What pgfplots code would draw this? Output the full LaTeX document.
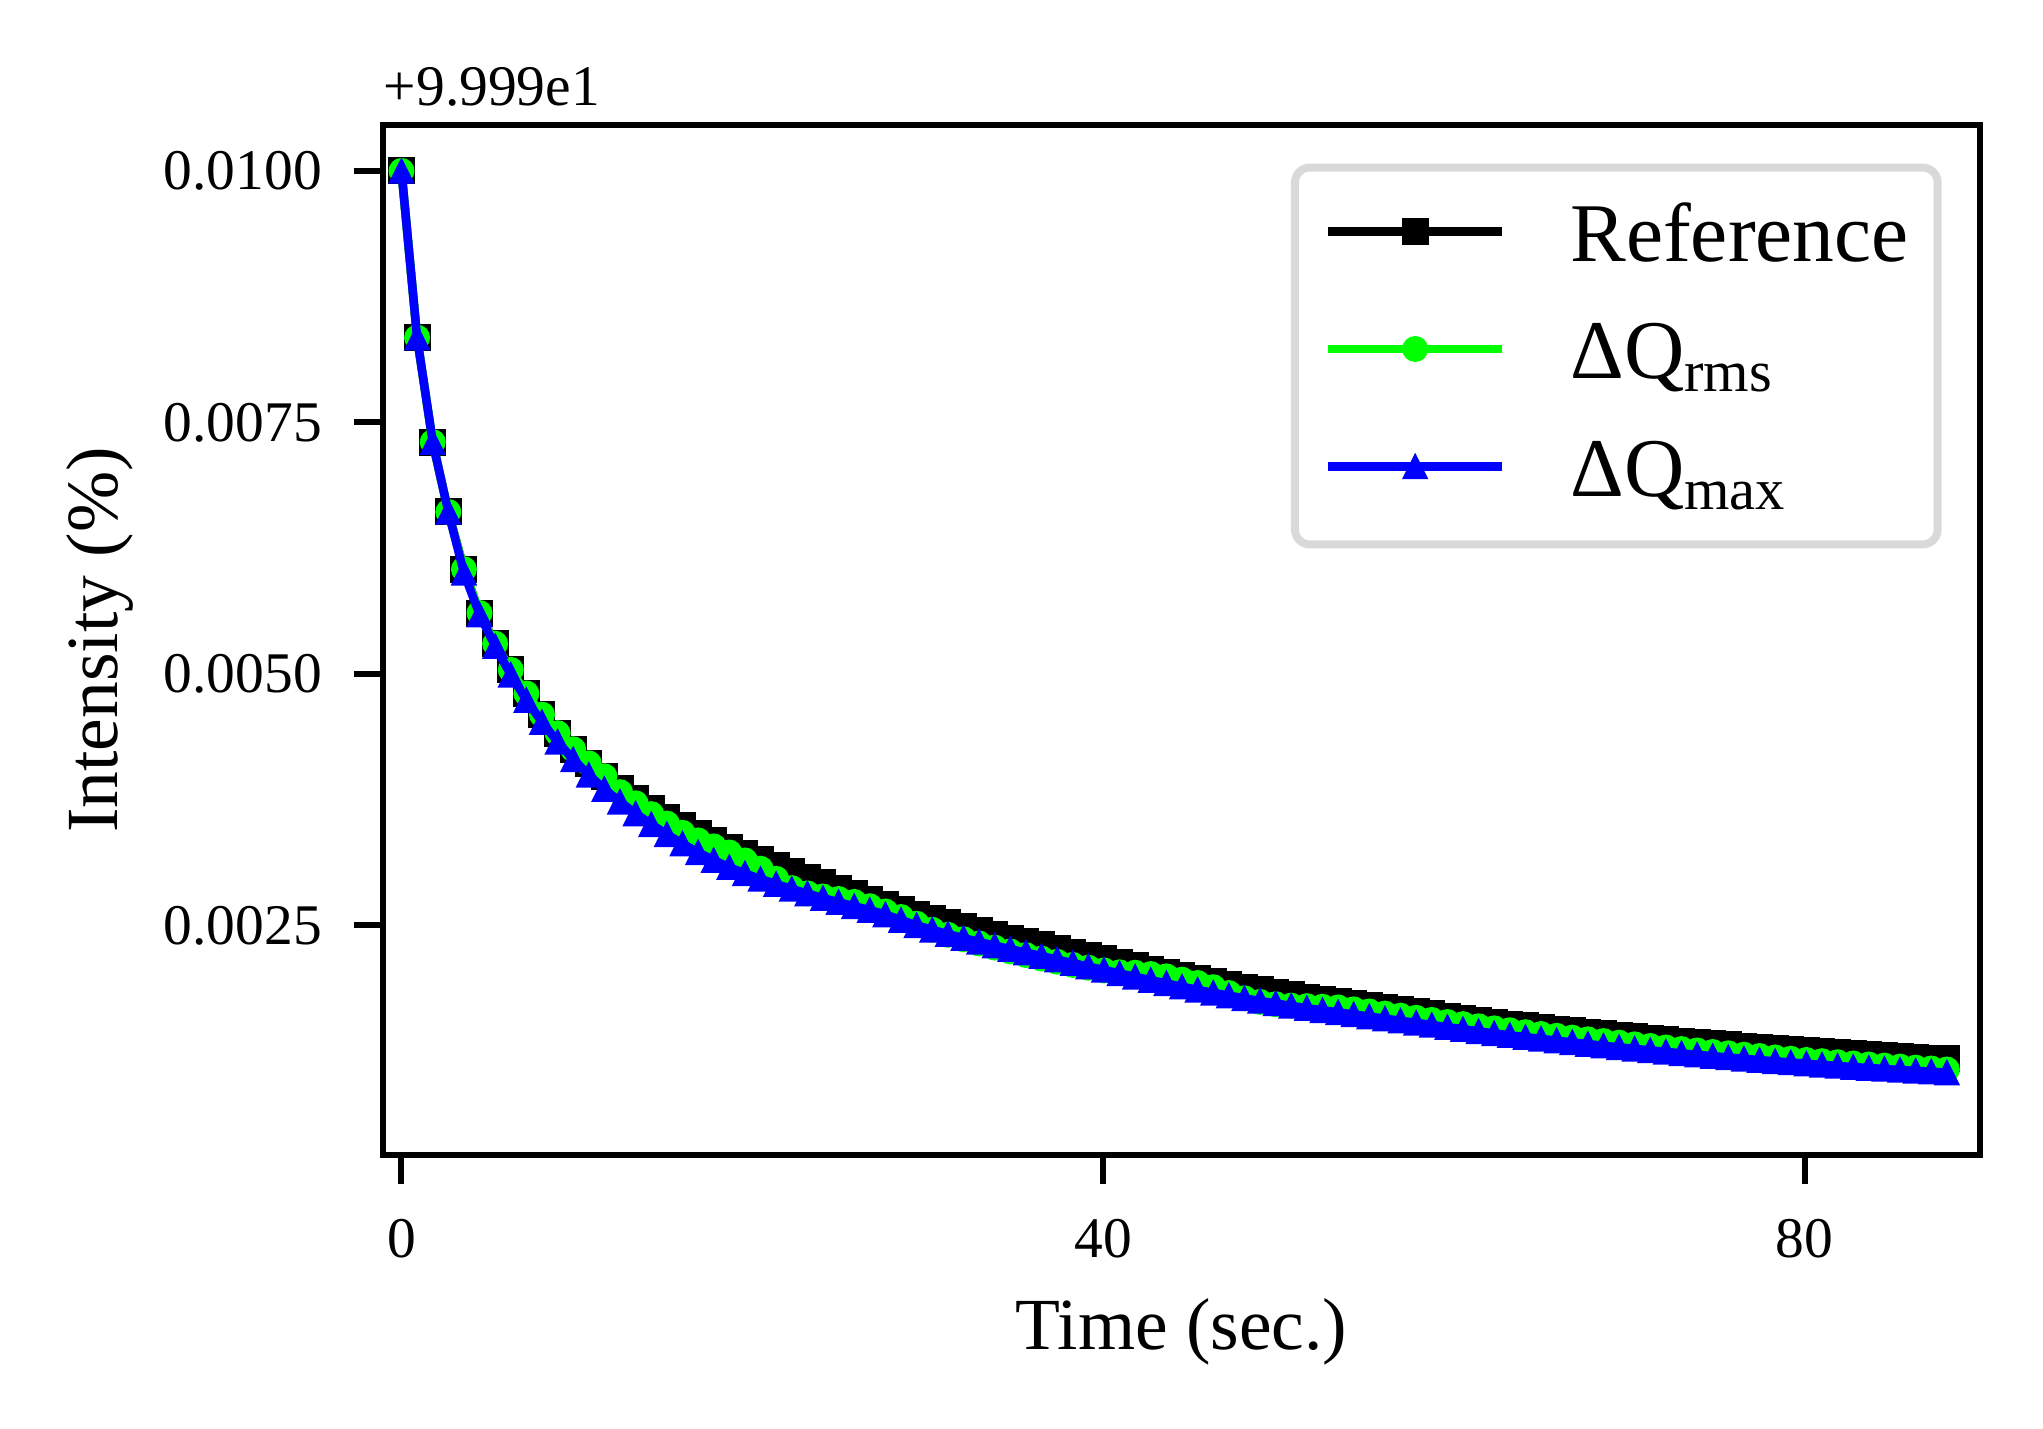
\documentclass[border=0pt]{standalone}
\usepackage{fontspec}
\setmainfont{Liberation Serif}
\usepackage{pgfplots}
\pgfplotsset{compat=1.18}
\usepackage{pgfplotstable}
\definecolor{mygreen}{RGB}{0,255,0}
\definecolor{myblue}{RGB}{0,0,255}
\pgfdeclareplotmark{mtri}{%
  \pgfpathmoveto{\pgfqpoint{0pt}{\pgfplotmarksize}}%
  \pgfpathlineto{\pgfqpoint{-\pgfplotmarksize}{-\pgfplotmarksize}}%
  \pgfpathlineto{\pgfqpoint{\pgfplotmarksize}{-\pgfplotmarksize}}%
  \pgfpathclose\pgfusepathqfillstroke}
\pgfplotstableread{
t ref rms max
0 0.010000 0.010000 0.010000
0.89 0.008343 0.008343 0.008343
1.78 0.007304 0.007304 0.007304
2.67 0.006610 0.006610 0.006610
3.56 0.006040 0.006040 0.006005
4.45 0.005605 0.005605 0.005590
5.34 0.005300 0.005300 0.005275
6.23 0.005040 0.005040 0.004990
7.12 0.004805 0.004805 0.004740
8.01 0.004595 0.004595 0.004520
8.90 0.004410 0.004410 0.004325
9.79 0.004250 0.004250 0.004150
10.68 0.004110 0.004110 0.003995
11.57 0.003982 0.003982 0.003855
12.46 0.003864 0.003824 0.003728
13.35 0.003758 0.003713 0.003612
14.24 0.003661 0.003606 0.003505
15.13 0.003572 0.003512 0.003405
16.02 0.003490 0.003420 0.003312
16.91 0.003414 0.003344 0.003226
17.80 0.003345 0.003285 0.003148
18.69 0.003279 0.003224 0.003078
19.58 0.003215 0.003145 0.003016
20.47 0.003153 0.003063 0.002961
21.36 0.003093 0.002963 0.002910
22.25 0.003035 0.002870 0.002862
23.14 0.002978 0.002818 0.002816
24.03 0.002922 0.002787 0.002772
24.92 0.002867 0.002762 0.002730
25.81 0.002813 0.002733 0.002690
26.70 0.002760 0.002690 0.002652
27.59 0.002708 0.002638 0.002608
28.48 0.002658 0.002583 0.002553
29.37 0.002611 0.002516 0.002501
30.26 0.002566 0.002456 0.002456
31.15 0.002524 0.002406 0.002414
32.04 0.002484 0.002362 0.002374
32.93 0.002446 0.002320 0.002336
33.82 0.002409 0.002279 0.002299
34.71 0.002374 0.002241 0.002264
35.60 0.002340 0.002205 0.002230
36.49 0.002305 0.002170 0.002195
37.38 0.002270 0.002138 0.002160
38.27 0.002235 0.002107 0.002125
39.16 0.002201 0.002079 0.002091
40.05 0.002167 0.002052 0.002057
40.94 0.002133 0.002033 0.002023
41.83 0.002099 0.002029 0.001989
42.72 0.002066 0.002016 0.001956
43.61 0.002033 0.001993 0.001923
44.50 0.002000 0.001960 0.001890
45.39 0.001969 0.001927 0.001859
46.28 0.001940 0.001885 0.001830
47.17 0.001912 0.001827 0.001802
48.06 0.001885 0.001775 0.001775
48.95 0.001859 0.001739 0.001749
49.84 0.001834 0.001716 0.001724
50.73 0.001810 0.001702 0.001700
51.62 0.001787 0.001697 0.001677
52.51 0.001766 0.001691 0.001656
53.40 0.001746 0.001684 0.001636
54.29 0.001725 0.001665 0.001615
55.18 0.001704 0.001644 0.001594
56.07 0.001683 0.001623 0.001573
56.96 0.001662 0.001602 0.001552
57.85 0.001641 0.001581 0.001531
58.74 0.001620 0.001560 0.001510
59.63 0.001599 0.001539 0.001489
60.52 0.001578 0.001518 0.001468
61.41 0.001557 0.001497 0.001447
62.30 0.001536 0.001476 0.001426
63.19 0.001519 0.001457 0.001408
64.08 0.001501 0.001438 0.001389
64.97 0.001485 0.001420 0.001372
65.86 0.001468 0.001402 0.001354
66.75 0.001452 0.001384 0.001337
67.64 0.001436 0.001367 0.001320
68.53 0.001421 0.001350 0.001304
69.42 0.001406 0.001334 0.001288
70.31 0.001391 0.001317 0.001273
71.20 0.001377 0.001301 0.001258
72.09 0.001363 0.001286 0.001243
72.98 0.001349 0.001270 0.001228
73.87 0.001336 0.001256 0.001214
74.76 0.001323 0.001241 0.001200
75.65 0.001311 0.001228 0.001187
76.54 0.001299 0.001214 0.001174
77.43 0.001287 0.001201 0.001161
78.32 0.001275 0.001187 0.001149
79.21 0.001264 0.001174 0.001137
80.10 0.001253 0.001162 0.001125
80.99 0.001243 0.001150 0.001114
81.88 0.001233 0.001139 0.001103
82.77 0.001223 0.001127 0.001092
83.66 0.001214 0.001117 0.001082
84.55 0.001205 0.001106 0.001073
85.44 0.001196 0.001096 0.001063
86.33 0.001188 0.001086 0.001054
87.22 0.001180 0.001077 0.001046
88.11 0.001172 0.001067 0.001037
}\datatable
\begin{document}
\begin{tikzpicture}
\useasboundingbox (-76.6pt,-54.8pt) rectangle (332.1pt,231pt);
\begin{axis}[
  at={(0pt,0pt)}, anchor=south west,
  scale only axis, width=319.5pt, height=205.9pt,
  clip mode=individual,
  xmin=-1.06, xmax=90, ymin=0.00022, ymax=0.010452,
  xtick={0,40,80},
  ytick={0.0025,0.005,0.0075,0.01},
  yticklabels={0.0025,0.0050,0.0075,0.0100},
  scaled y ticks=false,
  /pgf/number format/assume math mode=true,
  tick pos=left, tick align=outside,
  major tick length=5.8pt,
  tick style={black, line width=1.2pt},
  axis line style={line width=1.2pt},
  ticklabel style={font=\fontsize{11.5pt}{13pt}\selectfont, inner sep=0pt},
  xticklabel style={anchor=north, yshift=-7pt},
  yticklabel style={anchor=east, xshift=-6.2pt},
  xlabel={Time (sec.)},
  ylabel={Intensity (\%)},
  every axis x label/.style={at={([yshift=-39pt]rel axis cs:0.5,0)}, anchor=base, font=\fontsize{14.7pt}{17pt}\selectfont, inner sep=0pt},
  every axis y label/.style={at={([xshift=-53pt]rel axis cs:0,0.5)}, anchor=base, rotate=90, font=\fontsize{14.7pt}{17pt}\selectfont, inner sep=0pt},
  legend cell align=left,
  legend image code/.code={\draw[mark repeat=2,mark phase=2,#1] plot coordinates {(0pt,6pt) (17.4pt,6pt) (34.8pt,6pt)};},
  legend style={at={(0.976,0.963)}, anchor=north east, draw=black!15, fill=white,
    line width=1.6pt, rounded corners=3pt, inner xsep=5.8pt, inner ysep=5pt,
    font=\fontsize{16.7pt}{19pt}\selectfont, row sep=5.1pt,
    cells={anchor=base west},
    nodes={inner sep=0pt, text height=13.8pt, text depth=4.6pt},
    /tikz/every odd column/.append style={column sep=12.8pt}},
]
\addplot[black, line width=1.7pt, mark=square*, mark size=2.55pt, mark options={solid, line width=0.3pt}] table[x=t,y=ref]{\datatable};
\addlegendentry{Reference}
\addplot[mygreen, line width=1.7pt, mark=*, mark size=2.45pt, mark options={solid, line width=0.3pt}] table[x=t,y=rms]{\datatable};
\addlegendentry{ΔQ\textsubscript{rms}}
\addplot[myblue, line width=1.7pt, mark=mtri, mark size=2.4pt, mark options={solid, line width=0.3pt}] table[x=t,y=max]{\datatable};
\addlegendentry{ΔQ\textsubscript{max}}
\node[anchor=base west, font=\fontsize{11.5pt}{13pt}\selectfont, inner sep=0pt] at ([yshift=4pt]rel axis cs:0,1) {+9.999e1};
\end{axis}
\end{tikzpicture}
\end{document}
